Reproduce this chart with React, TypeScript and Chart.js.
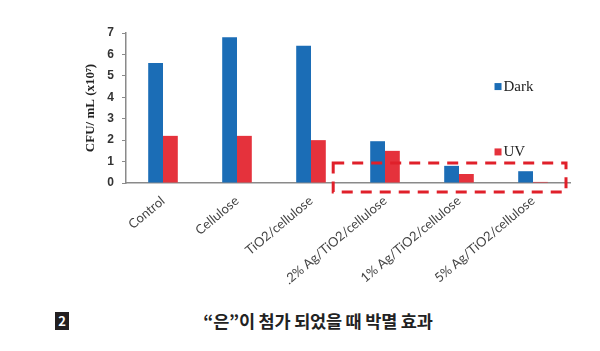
import React, { useEffect, useRef } from "react";
import { Chart, registerables } from "chart.js";

Chart.register(...registerables);

const categories = [
  "Control",
  "Cellulose",
  "TiO2/cellulose",
  ".2% Ag/TiO2/cellulose",
  "1% Ag/TiO2/cellulose",
  "5% Ag/TiO2/cellulose",
];
const darkValues = [5.6, 6.8, 6.4, 1.95, 0.8, 0.55];
const uvValues = [2.2, 2.2, 2.0, 1.5, 0.42, 0.05];
const seriesNames = ["Dark", "UV"];
const yTicks = [0, 1, 2, 3, 4, 5, 6, 7];
const yTitle = "CFU/ mL (x10\u2077)";
const caption = "\u201C은\u201D이 첨가 되었을 때 박멸 효과";
const captionNumber = "2";

const BLUE = "#1b6db6";
const RED = "#e5323c";

const overlayPlugin = {
  id: "overlay",
  afterDatasetsDraw(chart: any) {
    const { ctx, chartArea, scales } = chart;
    const x = scales.x;
    const y = scales.y;
    const left = x.getPixelForValue(2.3);
    const right = chartArea.right - 4;
    const top = y.getPixelForValue(0.93);
    const bottom = y.getPixelForValue(0) + 9;
    ctx.save();
    ctx.strokeStyle = "#e0202a";
    ctx.lineWidth = 3;
    ctx.setLineDash([11, 8]);
    ctx.strokeRect(left, top, right - left, bottom - top);
    ctx.restore();

    const lx = chartArea.left + (chartArea.right - chartArea.left) * 0.83;
    const ys = [y.getPixelForValue(4.5), y.getPixelForValue(1.45)];
    const colors = [BLUE, RED];
    ctx.save();
    ctx.font = "15px 'Liberation Serif', serif";
    ctx.textBaseline = "middle";
    seriesNames.forEach((n, i) => {
      ctx.fillStyle = colors[i];
      ctx.fillRect(lx, ys[i] - 3.5, 7, 7);
      ctx.fillStyle = "#222";
      ctx.fillText(n, lx + 9, ys[i] + 0.5);
    });
    ctx.restore();
  },
};

export default function App() {
  const ref = useRef<HTMLCanvasElement | null>(null);

  useEffect(() => {
    document.body.style.margin = "0";
    if (!ref.current) return;
    const chart = new Chart(ref.current, {
      type: "bar",
      data: {
        labels: categories,
        datasets: [
          {
            label: seriesNames[0],
            data: darkValues,
            backgroundColor: BLUE,
            barPercentage: 1,
            categoryPercentage: 0.4,
          },
          {
            label: seriesNames[1],
            data: uvValues,
            backgroundColor: RED,
            barPercentage: 1,
            categoryPercentage: 0.4,
          },
        ],
      },
      options: {
        animation: false,
        responsive: false,
        maintainAspectRatio: false,
        layout: { padding: { left: 83, right: 30, top: 33, bottom: 0 } },
        plugins: {
          legend: { display: false },
          tooltip: { enabled: false },
        },
        scales: {
          x: {
            grid: { display: false },
            border: { color: "#8a8a8a", width: 1.5 },
            ticks: {
              color: "#444",
              font: { family: "Lato, 'Open Sans', sans-serif", size: 13 },
              minRotation: 40,
              maxRotation: 40,
              padding: 2,
            },
            afterFit: (s: any) => {
              s.height = 107;
            },
          },
          y: {
            min: 0,
            max: 7,
            afterBuildTicks: (s: any) => {
              s.ticks = yTicks.map((v) => ({ value: v }));
            },
            grid: {
              display: true,
              drawOnChartArea: false,
              drawTicks: true,
              tickLength: 4,
              color: "#8a8a8a",
            },
            border: { color: "#8a8a8a", width: 1.5 },
            ticks: {
              color: "#333",
              font: { family: "'Liberation Sans', sans-serif", size: 12, weight: "bold" },
              padding: 8,
            },
            title: {
              display: true,
              text: yTitle,
              color: "#222",
              font: { family: "'Liberation Serif', serif", size: 13, weight: "bold" },
              padding: { top: 0, bottom: 4 },
            },
            afterFit: (s: any) => {
              s.width = 43;
            },
          },
        },
      },
      plugins: [overlayPlugin],
    });
    return () => chart.destroy();
  }, []);

  return (
    <div style={{ position: "relative", width: 600, height: 351, background: "#fff" }}>
      <canvas ref={ref} width={600} height={290} style={{ display: "block" }} />
      <div
        style={{
          position: "absolute",
          left: 55,
          top: 312,
          width: 14,
          height: 18,
          background: "#231f20",
          color: "#fff",
          fontFamily: "'Noto Sans CJK KR', sans-serif",
          fontWeight: 700,
          fontSize: 13,
          lineHeight: "18px",
          textAlign: "center",
        }}
      >
        {captionNumber}
      </div>
      <div
        style={{
          position: "absolute",
          left: 0,
          width: 636,
          top: 309,
          textAlign: "center",
          fontFamily: "'Noto Sans CJK KR', sans-serif",
          fontWeight: 700,
          fontSize: 17.5,
          lineHeight: "24px",
          color: "#222",
          letterSpacing: "-0.2px",
        }}
      >
        {caption}
      </div>
    </div>
  );
}
